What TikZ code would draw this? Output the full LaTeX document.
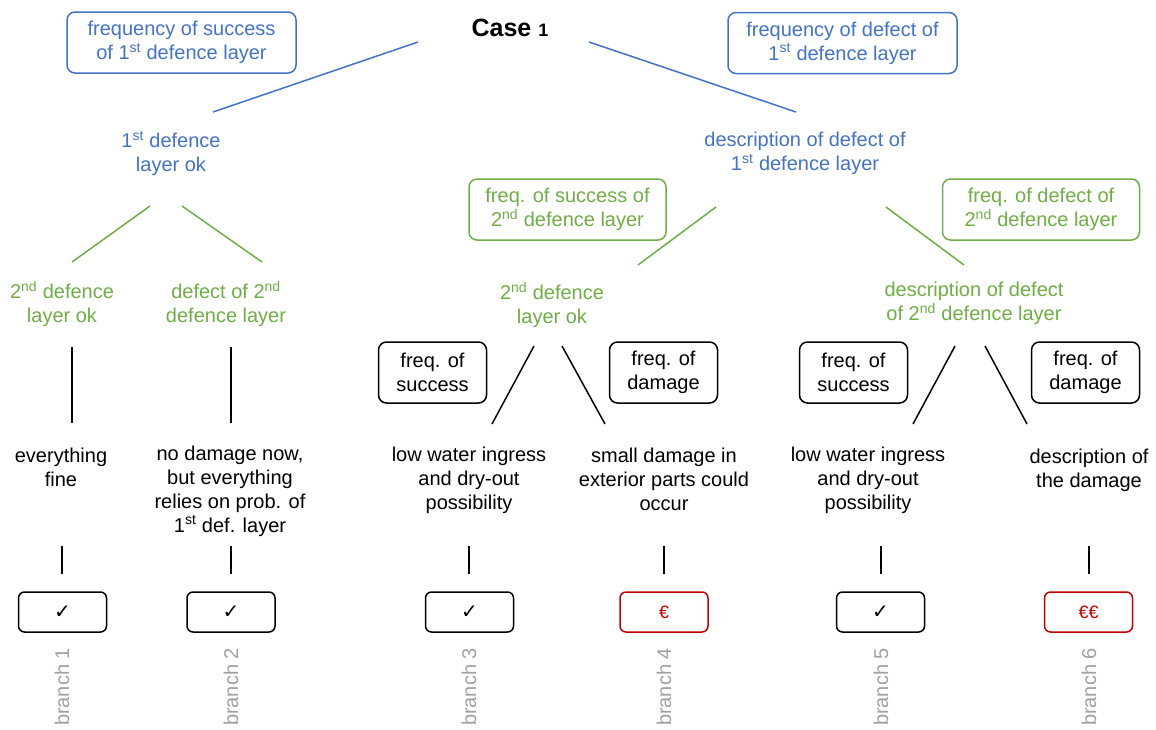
\documentclass[tikz,border=0pt]{standalone}
\usepackage{fontspec}
\setmainfont{Liberation Sans}
\newfontfamily\symfont{DejaVu Sans}
\definecolor{cblue}{RGB}{68,114,196}
\definecolor{cgreen}{RGB}{112,173,71}
\definecolor{cred}{RGB}{192,0,0}
\definecolor{cgray}{RGB}{160,160,160}
\newcommand{\sps}[1]{\textsuperscript{#1}}
\newcommand{\chk}{{\symfont\fontsize{20}{20}\selectfont ✓}}
\tikzset{
  txt/.style={align=center, inner sep=0pt, font=\fontsize{20}{24}\selectfont},
  bluetxt/.style={txt, text=cblue},
  greentxt/.style={txt, text=cgreen},
  boxb/.style={txt, draw=cblue, text=cblue, line width=1.5pt, rounded corners=8pt, minimum width=229pt, minimum height=61pt},
  boxg/.style={txt, draw=cgreen, text=cgreen, line width=1.5pt, rounded corners=8pt, minimum width=197pt, minimum height=61pt},
  boxk/.style={txt, draw=black, line width=1.5pt, rounded corners=8pt, minimum width=108pt, minimum height=61pt},
  resk/.style={draw=black, line width=1.5pt, rounded corners=6pt, minimum width=88pt, minimum height=40pt, inner sep=0pt},
  resr/.style={resk, draw=cred, text=cred, font=\fontsize{18}{20}\selectfont},
  brl/.style={txt, text=cgray, rotate=90},
  lb/.style={draw=cblue, line width=1.5pt},
  lg/.style={draw=cgreen, line width=1.5pt},
  lk/.style={draw=black, line width=1.5pt},
}
\begin{document}
\begin{tikzpicture}[x=1pt,y=-1pt]
\useasboundingbox (0,0) rectangle (1156,729);
% title
\node[inner sep=0pt, font=\fontsize{25}{28}\selectfont\bfseries] (case) at (510,28) {Case \fontsize{18}{20}\selectfont 1};
% blue level
\node[boxb] (fs1) at (181.5,42.5) {frequency of success\\of 1\sps{st} defence layer};
\node[boxb] (fd1) at (842.5,43) {frequency of defect of\\1\sps{st} defence layer};
\node[bluetxt] (ok1) at (171,153.5) {1\sps{st} defence\\layer ok};
\node[bluetxt] (de1) at (805,153.5) {description of defect of\\1\sps{st} defence layer};
\coordinate (a1) at (418,42); \coordinate (a2) at (213,112);
\coordinate (a3) at (589,42); \coordinate (a4) at (796,112);
\draw[lb] (a1) -- (a2);
\draw[lb] (a3) -- (a4);
% green level
\node[boxg] (fs2) at (567.5,209.5) {freq. of success of\\2\sps{nd} defence layer};
\node[boxg] (fd2) at (1041,209.5) {freq. of defect of\\2\sps{nd} defence layer};
\node[greentxt] (okA) at (62,304) {2\sps{nd} defence\\layer ok};
\node[greentxt] (deA) at (226,304) {defect of 2\sps{nd}\\defence layer};
\node[greentxt] (okB) at (552,305) {2\sps{nd} defence\\layer ok};
\node[greentxt] (deB) at (974,303.5) {description of defect\\of 2\sps{nd} defence layer};
\coordinate (g1) at (150,206); \coordinate (g2) at (72,262);
\coordinate (g3) at (182,206); \coordinate (g4) at (262,262);
\coordinate (g5) at (716,207); \coordinate (g6) at (638,265);
\coordinate (g7) at (886,207); \coordinate (g8) at (964,265);
\draw[lg] (g1) -- (g2);
\draw[lg] (g3) -- (g4);
\draw[lg] (g5) -- (g6);
\draw[lg] (g7) -- (g8);
% black level
\node[boxk] (s3) at (432.5,372.5) {freq. of\\success};
\node[boxk] (d4) at (663.5,372.5) {freq. of\\damage};
\node[boxk] (s5) at (853.5,372.5) {freq. of\\success};
\node[boxk] (d6) at (1085.5,372.5) {freq. of\\damage};
\coordinate (k1a) at (72,347); \coordinate (k1b) at (72,423);
\coordinate (k2a) at (231,347); \coordinate (k2b) at (231,423);
\coordinate (k3a) at (534,346); \coordinate (k3b) at (492,424);
\coordinate (k4a) at (562,346); \coordinate (k4b) at (605,424);
\coordinate (k5a) at (955,346); \coordinate (k5b) at (913,424);
\coordinate (k6a) at (985,346); \coordinate (k6b) at (1027,424);
\draw[lk] (k1a) -- (k1b);
\draw[lk] (k2a) -- (k2b);
\draw[lk] (k3a) -- (k3b);
\draw[lk] (k4a) -- (k4b);
\draw[lk] (k5a) -- (k5b);
\draw[lk] (k6a) -- (k6b);
% outcomes
\node[txt] (t1) at (61,467) {everything\\fine};
\node[txt] (t2) at (230,491) {no damage now,\\but everything\\relies on prob. of\\1\sps{st} def. layer};
\node[txt] (t3) at (469,480) {low water ingress\\and dry-out\\possibility};
\node[txt] (t4) at (664,479.5) {small damage in\\exterior parts could\\occur};
\node[txt] (t5) at (868,480) {low water ingress\\and dry-out\\possibility};
\node[txt] (t6) at (1089,470.5) {description of\\the damage};
% result boxes
\node[resk] (r1) at (62.5,612) {\chk};
\node[resk] (r2) at (231,612) {\chk};
\node[resk] (r3) at (469.5,612) {\chk};
\node[resr] (r4) at (664,612) {€};
\node[resk] (r5) at (880.5,612) {\chk};
\node[resr] (r6) at (1088.5,612) {€€};
\foreach \x/\n in {62/1,231/2,469/3,664/4,881/5,1089/6}{
  \coordinate (v\n a) at (\x,546); \coordinate (v\n b) at (\x,574);
  \draw[lk] (v\n a) -- (v\n b);
}
% branch labels
\node[brl] (b1) at (62,687) {branch 1};
\node[brl] (b2) at (231,687) {branch 2};
\node[brl] (b3) at (469,687) {branch 3};
\node[brl] (b4) at (664,687) {branch 4};
\node[brl] (b5) at (881,687) {branch 5};
\node[brl] (b6) at (1089,687) {branch 6};
\end{tikzpicture}
\end{document}
